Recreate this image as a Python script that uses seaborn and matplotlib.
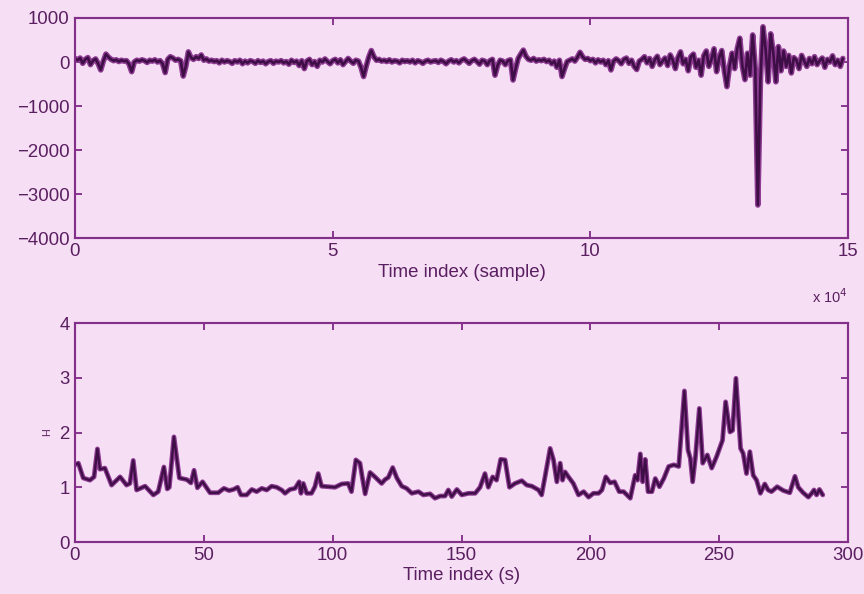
import numpy as np
import pandas as pd
import matplotlib
matplotlib.use("Agg")
import matplotlib.pyplot as plt
import seaborn as sns

# ---- raw signal, one value every 500 samples ----
sample_step = 500
signal_values = [
    80, 40, 90, -30, 60, 100, -60, 30, 70, -40,
    -180, 20, 180, 110, 60, 30, 50, 10, 40, 20,
    30, -50, -220, 0, 40, 20, 50, 30, -10, 40,
    20, 50, 0, 30, -40, -240, 60, 120, 90, 40,
    60, 30, -320, -100, 230, 100, 60, 120, 80, 160,
    40, 70, 20, 40, 10, 30, -20, 40, 0, 30,
    10, -30, 30, 0, 40, -40, 20, -20, 30, 10,
    -30, 30, -10, 20, -40, 10, 30, -30, 20, 0,
    30, -20, 10, -50, 40, -10, 20, -80, 30, -150,
    20, 60, -60, 10, -100, 40, 0, 70, 10, -40,
    30, 60, -20, 50, -60, 10, 80, 20, -30, 40,
    20, -120, -330, -100, 110, 260, 120, 40, 60, 20,
    40, 10, 50, 0, 30, 20, -20, 40, 10, 30,
    0, 40, -20, 30, 10, -30, 20, 40, 0, 20,
    30, -10, 40, 10, -40, 20, 50, 0, 30, -20,
    40, 70, 20, -30, 30, 60, 10, -50, 40, 20,
    -60, 30, 60, -300, -80, 40, 20, -60, 30, 50,
    -410, -150, 80, 180, 270, 130, 60, 40, 80, 20,
    50, 30, 60, 10, 40, -40, 20, -120, 40, -330,
    -150, 10, 40, 70, 20, 110, 220, 120, 60, 80,
    30, 60, -20, 50, 0, 40, -60, 30, -180, 20,
    70, 30, -40, 60, 90, -30, 40, -100, -170, 20,
    60, 120, -20, 80, -100, 50, 130, -60, 20, 90,
    -80, 160, 40, -150, 100, 230, -40, 60, -200, 120,
    180, -120, 40, -300, 140, 250, -100, 60, 300, -220,
    100, 260, -200, -560, -100, 200, -150, 300, 540, -100,
    -400, 200, -300, 615, -150, -3250, -400, 800, 300, -450,
    640, 200, -450, 350, -200, 250, -100, 150, -250, 100,
    40, -150, 150, 20, -100, 80, -40, 120, -60, 30,
    90, -120, 60, 0, 140, -60, 40, -100, 80,
]
sample_index = np.arange(len(signal_values)) * sample_step

# ---- H estimate over time ----
time_s = [
    0, 1.3, 3.2, 5.8, 7.4, 8.7, 9.7, 11.6, 14.2, 17.5, 20.0, 21.3, 22.6, 23.9,
    27.2, 30.4, 32.3, 34.5, 35.8, 36.6, 38.4, 40.5, 43.4, 45.0, 46.2, 47.5,
    49.5, 52.4, 55.6, 57.8, 59.8, 61.5, 63.1, 64.4, 66.6, 68.6, 70.5, 72.5,
    74.4, 76.3, 78.3, 80.2, 81.5, 83.4, 85.4, 87.0, 87.7, 88.6, 89.9, 91.8,
    93.1, 94.4, 95.7, 98.3, 100.9, 103.5, 106.0, 107.3, 109.0, 110.6, 111.5,
    112.6, 114.5, 116.4, 119.0, 120.3, 121.6, 123.3, 124.9, 126.8, 128.7,
    130.7, 133.3, 135.2, 137.8, 139.7, 141.7, 143.6, 144.9, 146.2, 148.2,
    150.1, 152.7, 155.3, 157.2, 159.1, 160.4, 162.1, 163.6, 165.2, 166.9,
    168.6, 170.8, 173.4, 175.3, 177.3, 179.9, 181.1, 182.4, 184.4, 185.7,
    187.0, 188.3, 189.2, 190.2, 191.5, 193.4, 195.4, 197.4, 199.3, 201.2,
    203.2, 204.5, 206.0, 207.7, 209.4, 211.2, 212.9, 215.5, 217.4, 218.3,
    219.4, 220.3, 221.3, 222.4, 223.9, 225.2, 226.8, 228.5, 230.4, 232.4,
    234.3, 236.5, 237.9, 238.8, 239.7, 240.8, 242.3, 243.6, 245.4, 247.1,
    249.0, 250.6, 251.3, 252.5, 254.2, 255.2, 256.5, 258.3, 259.3, 260.6,
    261.9, 263.2, 264.5, 266.0, 267.7, 269.0, 270.3, 272.5, 274.9, 277.4,
    279.4, 280.7, 282.6, 284.6, 285.9, 286.8, 287.8, 288.9, 290.2,
]
h_values = [
    1.41, 1.44, 1.17, 1.13, 1.19, 1.70, 1.33, 1.35, 1.04, 1.19, 1.04, 1.07, 1.49, 0.95,
    1.02, 0.86, 0.92, 1.37, 0.97, 1.00, 1.92, 1.17, 1.14, 1.08, 1.31, 0.99,
    1.10, 0.90, 0.90, 0.98, 0.94, 0.96, 1.00, 0.86, 0.86, 0.96, 0.92, 0.98,
    0.95, 1.02, 1.00, 0.95, 0.89, 0.96, 0.98, 1.10, 0.89, 1.07, 0.89, 0.89,
    1.01, 1.25, 1.02, 1.01, 1.00, 1.06, 1.07, 0.92, 1.50, 1.44, 1.18,
    0.88, 1.27, 1.19, 1.07, 1.14, 1.18, 1.36, 1.17, 1.02, 0.98,
    0.89, 0.92, 0.86, 0.88, 0.80, 0.84, 0.84, 0.95, 0.83, 0.96,
    0.86, 0.89, 0.89, 1.00, 1.25, 1.00, 1.19, 1.13, 1.51, 1.50,
    1.00, 1.07, 1.12, 1.04, 1.02, 0.95, 0.86, 1.19, 1.71, 1.50,
    1.10, 1.44, 1.13, 1.28, 1.19, 1.07, 0.86, 0.92, 0.82, 0.89,
    0.89, 0.95, 1.19, 1.08, 1.10, 0.92, 0.92, 0.80, 1.22, 1.13,
    1.61, 1.10, 1.51, 0.92, 0.92, 1.16, 1.01, 1.16, 1.38, 1.41,
    1.38, 2.76, 1.68, 1.53, 1.10, 1.56, 2.44, 1.44, 1.59, 1.35,
    1.56, 1.77, 1.86, 2.56, 2.01, 2.04, 2.99, 1.71, 1.62, 1.25,
    1.65, 1.22, 1.13, 0.89, 1.06, 0.95, 0.92, 1.01, 0.94, 0.90,
    1.20, 1.00, 0.90, 0.82, 0.89, 0.95, 0.86, 0.96, 0.86,
]

top_xticks = [0, 50000, 100000, 150000]
top_xticklabels = ["0", "5", "10", "15"]
top_yticks = [1000, 0, -1000, -2000, -3000, -4000]
bottom_xticks = [0, 50, 100, 150, 200, 250, 300]
bottom_yticks = [0, 1, 2, 3, 4]

# ---- style ----
paper = "#f6def4"
frame = "#82308a"
ink = "#5a1f60"
edge_col = "#8d3c92"
core_col = "#3f0e47"

sns.set_theme(style="ticks")
plt.rcParams["font.family"] = ["Liberation Sans", "DejaVu Sans"]
plt.rcParams.update({
    "axes.edgecolor": frame,
    "axes.linewidth": 1.6,
    "xtick.color": frame,
    "ytick.color": frame,
    "xtick.labelcolor": ink,
    "ytick.labelcolor": ink,
    "axes.labelcolor": ink,
    "text.color": ink,
})

fig = plt.figure(figsize=(9.0, 6.1875), dpi=96, facecolor=paper)
ax1 = fig.add_axes([0.0868, 0.5993, 0.8947, 0.3704], facecolor=paper)
ax2 = fig.add_axes([0.0868, 0.0875, 0.8947, 0.3687], facecolor=paper)

sig = pd.DataFrame({"sample": sample_index, "value": signal_values})
hdf = pd.DataFrame({"t": time_s, "H": h_values})

# purple halo with a dark core for each trace
for ax, df, xc, yc, w_edge, w_core in [
    (ax1, sig, "sample", "value", 4.2, 2.0),
    (ax2, hdf, "t", "H", 3.6, 1.8),
]:
    sns.lineplot(data=df, x=xc, y=yc, ax=ax, color=edge_col, linewidth=w_edge,
                 estimator=None)
    sns.lineplot(data=df, x=xc, y=yc, ax=ax, color=core_col, linewidth=w_core,
                 estimator=None)

tick_fs = 14
ax1.set_xlim(0, 150000)
ax1.set_ylim(-4000, 1000)
ax1.set_xticks(top_xticks)
ax1.set_xticklabels(top_xticklabels)
ax1.set_yticks(top_yticks)
ax1.set_xlabel("Time index (sample)", fontsize=tick_fs, labelpad=3)
ax1.set_ylabel("")
fig.text(0.981, 0.50, r"x 10$^{4}$", ha="right", va="center", fontsize=11,
         color=ink)

ax2.set_xlim(0, 300)
ax2.set_ylim(0, 4)
ax2.set_xticks(bottom_xticks)
ax2.set_yticks(bottom_yticks)
ax2.set_xlabel("Time index (s)", fontsize=tick_fs, labelpad=2)
ax2.set_ylabel("H", fontsize=8, labelpad=5)

for ax in (ax1, ax2):
    ax.tick_params(direction="in", length=5, width=1.4, top=True, right=True,
                   labelsize=tick_fs, pad=4)
    for s in ax.spines.values():
        s.set_visible(True)
        s.set_color(frame)

fig.savefig("out.png", dpi=96, facecolor=paper)
